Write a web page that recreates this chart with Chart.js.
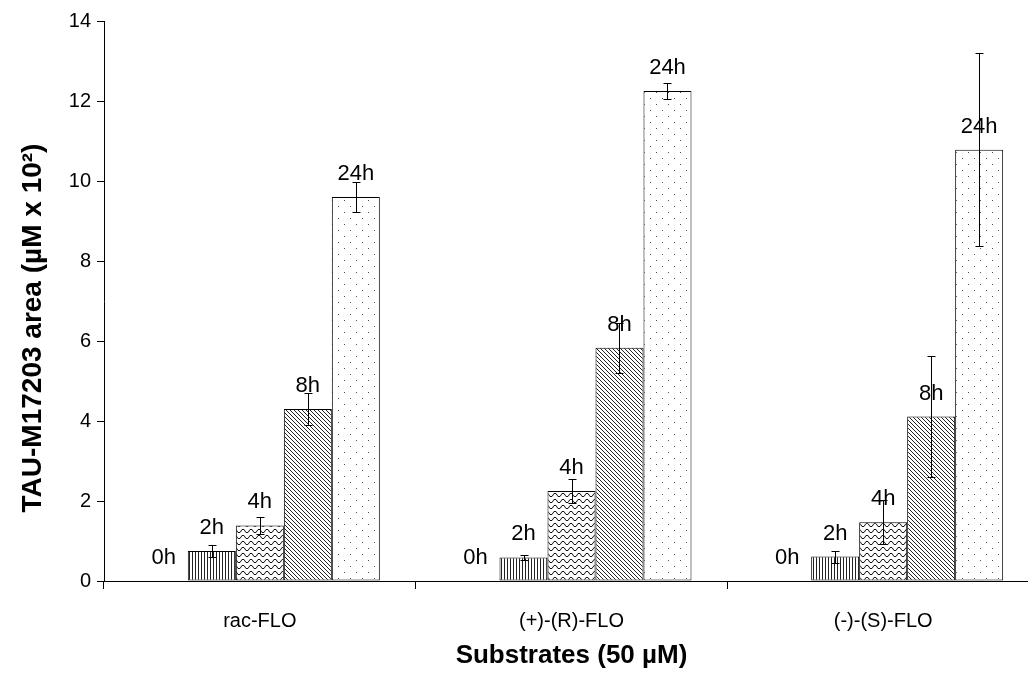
<!DOCTYPE html>
<html><head><meta charset="utf-8">
<script src="https://cdn.jsdelivr.net/npm/chart.js@4.4.1/dist/chart.umd.min.js"></script>
<style>html,body{margin:0;padding:0;overflow:hidden;background:#fff}</style>
</head><body><canvas id="c" width="1045" height="679"></canvas>
<script>
const categories = ['rac-FLO', '(+)-(R)-FLO', '(-)-(S)-FLO'];
const seriesNames = ['0h', '2h', '4h', '8h', '24h'];
const values0h = [0, 0, 0];
const values2h = [0.75, 0.59, 0.61];
const values4h = [1.39, 2.25, 1.47];
const values8h = [4.30, 5.83, 4.11];
const values24h = [9.60, 12.25, 10.78];
const err0h = [0, 0, 0];
const err2h = [0.14, 0.07, 0.15];
const err4h = [0.22, 0.29, 0.55];
const err8h = [0.41, 0.63, 1.51];
const err24h = [0.38, 0.21, 2.41];
const yMin = 0, yMax = 14, yStep = 2;
const xTitle = 'Substrates (50 µM)';
const yTitle = 'TAU-M17203 area (µM x 10²)';

const seriesValues = [values0h, values2h, values4h, values8h, values24h];
const seriesErrors = [err0h, err2h, err4h, err8h, err24h];
const FONT = '"Liberation Sans", Arial, sans-serif';

function makePattern(w, h, draw) {
  const c = document.createElement('canvas');
  c.width = w; c.height = h;
  const g = c.getContext('2d');
  g.fillStyle = '#fff'; g.fillRect(0, 0, w, h);
  draw(g);
  return document.getElementById('c').getContext('2d').createPattern(c, 'repeat');
}
const patVertical = makePattern(3, 3, g => { g.fillStyle = '#222'; g.fillRect(0, 0, 1, 3); });
const patWave = makePattern(8, 6, g => {
  g.strokeStyle = '#111'; g.lineWidth = 1;
  g.beginPath(); g.moveTo(0, 4.5); g.lineTo(2, 1.5); g.lineTo(4, 1.5); g.lineTo(6, 4.5); g.lineTo(8, 4.5); g.stroke();
});
const patDiag = makePattern(4, 4, g => { g.fillStyle = '#222'; for (let i = 0; i < 4; i++) g.fillRect(i, i, 1, 1); });
const patDots = makePattern(12, 12, g => { g.fillStyle = '#555'; g.fillRect(2, 2, 1, 1); g.fillRect(8, 8, 1, 1); });
const fills = ['#fff', patVertical, patWave, patDiag, patDots];

const labelPlugin = {
  id: 'labelsAndErrors',
  afterDatasetsDraw(chart) {
    const ctx = chart.ctx, y = chart.scales.y;
    ctx.save();
    chart.data.datasets.forEach((ds, i) => {
      const meta = chart.getDatasetMeta(i);
      meta.data.forEach((el, j) => {
        const v = ds.data[j];
        ctx.fillStyle = '#000';
        ctx.font = '22px ' + FONT;
        ctx.textAlign = 'center'; ctx.textBaseline = 'middle';
        ctx.fillText(ds.label, el.x, y.getPixelForValue(v) - 23);
        const e = seriesErrors[i][j];
        if (e > 0) {
          const yt = Math.round(y.getPixelForValue(v + e)) + 0.5;
          const yb = Math.round(y.getPixelForValue(v - e)) + 0.5;
          const x = Math.round(el.x) + 0.5;
          ctx.strokeStyle = '#000'; ctx.lineWidth = 1;
          ctx.beginPath();
          ctx.moveTo(x, yt); ctx.lineTo(x, yb);
          ctx.moveTo(x - 4, yt); ctx.lineTo(x + 4, yt);
          ctx.moveTo(x - 4, yb); ctx.lineTo(x + 4, yb);
          ctx.stroke();
        }
      });
    });
    ctx.restore();
  },
  afterDraw(chart) {
    const ctx = chart.ctx;
    ctx.save();
    ctx.translate(33, 328);
    ctx.rotate(-Math.PI / 2);
    ctx.fillStyle = '#000';
    ctx.font = 'bold 28px ' + FONT;
    ctx.textAlign = 'center'; ctx.textBaseline = 'middle';
    ctx.fillText(yTitle, 0, 0);
    ctx.restore();
  }
};

new Chart(document.getElementById('c'), {
  type: 'bar',
  data: {
    labels: categories,
    datasets: seriesNames.map((n, i) => ({
      label: n,
      data: seriesValues[i],
      backgroundColor: fills[i],
      borderColor: '#000',
      borderWidth: i === 0 ? 0 : 1,
      borderSkipped: false,
      categoryPercentage: 0.77,
      barPercentage: 1.0
    }))
  },
  options: {
    responsive: false,
    animation: false,
    devicePixelRatio: 1,
    layout: { padding: { top: 21, right: 6, left: 0, bottom: 0 } },
    plugins: { legend: { display: false }, tooltip: { enabled: false } },
    scales: {
      x: {
        type: 'category',
        offset: true,
        grid: { offset: true, drawOnChartArea: false, tickLength: 8, color: '#000', lineWidth: 1 },
        border: { color: '#000', width: 1 },
        ticks: { color: '#000', font: { family: FONT, size: 20 }, padding: 20 },
        title: { display: true, text: xTitle, color: '#000',
                 font: { family: FONT, size: 26, weight: 'bold' }, padding: { top: 0, bottom: 8 } },
        afterFit: s => { s.height = 98; }
      },
      y: {
        min: yMin, max: yMax,
        grid: { drawOnChartArea: false, tickLength: 7, color: '#000', lineWidth: 1 },
        border: { color: '#000', width: 1 },
        ticks: { stepSize: yStep, color: '#000', font: { family: FONT, size: 20 }, padding: 6 },
        title: { display: false },
        afterFit: s => { s.width = 104; }
      }
    }
  },
  plugins: [labelPlugin]
});
</script>
</body></html>
